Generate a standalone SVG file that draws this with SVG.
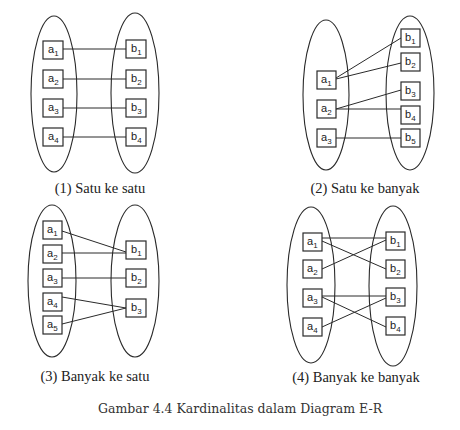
<svg xmlns="http://www.w3.org/2000/svg" width="460" height="430" viewBox="0 0 460 430">
<style>
.bg{fill:#fff}
.set{fill:none;stroke:#2a2a2a;stroke-width:1.1}
.box{fill:#fff;stroke:#2a2a2a;stroke-width:1.2}
.lbl{font-family:"Liberation Sans",Arial,sans-serif;font-size:11px;fill:#222}
.sub{font-size:8px}
.ln{stroke:#2a2a2a;stroke-width:1;fill:none}
.cap{font-family:"Liberation Serif","Times New Roman",serif;font-size:14.5px;fill:#222;text-anchor:middle}
.title{font-family:"DejaVu Serif",Georgia,serif;font-size:12.5px;fill:#333;text-anchor:middle}
</style>
<rect class="bg" x="0" y="0" width="460" height="430"/>

<!-- Panel 1 -->
<g id="p1-setA"><ellipse class="set" cx="54" cy="94" rx="23" ry="78"/></g>
<g id="p1-setB"><ellipse class="set" cx="135" cy="93" rx="24" ry="80"/></g>
<g id="p1-conn">
<line class="ln" x1="63" y1="49" x2="126" y2="49"/>
<line class="ln" x1="63" y1="79" x2="126" y2="79"/>
<line class="ln" x1="63" y1="108" x2="126" y2="108"/>
<line class="ln" x1="63" y1="137" x2="126" y2="137"/>
</g>
<g id="p1-a1"><rect class="box" x="43" y="41" width="20" height="18"/><text class="lbl" x="48" y="53">a<tspan class="sub" dy="3">1</tspan></text></g>
<g id="p1-a2"><rect class="box" x="43" y="70" width="20" height="18"/><text class="lbl" x="48" y="82">a<tspan class="sub" dy="3">2</tspan></text></g>
<g id="p1-a3"><rect class="box" x="43" y="99" width="20" height="18"/><text class="lbl" x="48" y="111">a<tspan class="sub" dy="3">3</tspan></text></g>
<g id="p1-a4"><rect class="box" x="43" y="128" width="20" height="18"/><text class="lbl" x="48" y="140">a<tspan class="sub" dy="3">4</tspan></text></g>
<g id="p1-b1"><rect class="box" x="126" y="40" width="20" height="18"/><text class="lbl" x="131" y="52">b<tspan class="sub" dy="3">1</tspan></text></g>
<g id="p1-b2"><rect class="box" x="126" y="70" width="20" height="18"/><text class="lbl" x="131" y="82">b<tspan class="sub" dy="3">2</tspan></text></g>
<g id="p1-b3"><rect class="box" x="126" y="99" width="20" height="18"/><text class="lbl" x="131" y="111">b<tspan class="sub" dy="3">3</tspan></text></g>
<g id="p1-b4"><rect class="box" x="126" y="128" width="20" height="18"/><text class="lbl" x="131" y="140">b<tspan class="sub" dy="3">4</tspan></text></g>
<text class="cap" x="100" y="193">(1) Satu ke satu</text>

<!-- Panel 2 -->
<g id="p2-setA"><ellipse class="set" cx="326" cy="95" rx="23" ry="75"/></g>
<g id="p2-setB"><ellipse class="set" cx="410" cy="93" rx="24" ry="77"/></g>
<g id="p2-conn">
<line class="ln" x1="336" y1="78" x2="401" y2="38"/>
<line class="ln" x1="336" y1="79" x2="401" y2="63"/>
<line class="ln" x1="336" y1="109" x2="401" y2="90"/>
<line class="ln" x1="336" y1="109" x2="401" y2="109"/>
<line class="ln" x1="336" y1="138" x2="401" y2="138"/>
</g>
<g id="p2-a1"><rect class="box" x="317" y="71" width="19" height="18"/><text class="lbl" x="321" y="83">a<tspan class="sub" dy="3">1</tspan></text></g>
<g id="p2-a2"><rect class="box" x="317" y="100" width="19" height="18"/><text class="lbl" x="321" y="112">a<tspan class="sub" dy="3">2</tspan></text></g>
<g id="p2-a3"><rect class="box" x="317" y="129" width="19" height="18"/><text class="lbl" x="321" y="141">a<tspan class="sub" dy="3">3</tspan></text></g>
<g id="p2-b1"><rect class="box" x="401" y="29" width="19" height="18"/><text class="lbl" x="405" y="41">b<tspan class="sub" dy="3">1</tspan></text></g>
<g id="p2-b2"><rect class="box" x="401" y="53" width="19" height="18"/><text class="lbl" x="405" y="65">b<tspan class="sub" dy="3">2</tspan></text></g>
<g id="p2-b3"><rect class="box" x="401" y="82" width="19" height="18"/><text class="lbl" x="405" y="94">b<tspan class="sub" dy="3">3</tspan></text></g>
<g id="p2-b4"><rect class="box" x="401" y="106" width="19" height="18"/><text class="lbl" x="405" y="118">b<tspan class="sub" dy="3">4</tspan></text></g>
<g id="p2-b5"><rect class="box" x="401" y="129" width="19" height="18"/><text class="lbl" x="405" y="141">b<tspan class="sub" dy="3">5</tspan></text></g>
<text class="cap" x="365" y="193">(2) Satu ke banyak</text>

<!-- Panel 3 -->
<g id="p3-setA"><ellipse class="set" cx="52" cy="281" rx="24" ry="76"/></g>
<g id="p3-setB"><ellipse class="set" cx="135" cy="281" rx="24" ry="76"/></g>
<g id="p3-conn">
<line class="ln" x1="62" y1="231" x2="126" y2="252"/>
<line class="ln" x1="62" y1="253" x2="126" y2="253"/>
<line class="ln" x1="62" y1="278" x2="126" y2="278"/>
<line class="ln" x1="62" y1="297" x2="126" y2="308"/>
<line class="ln" x1="62" y1="324" x2="126" y2="308"/>
</g>
<g id="p3-a1"><rect class="box" x="43" y="221" width="19" height="18"/><text class="lbl" x="47" y="233">a<tspan class="sub" dy="3">1</tspan></text></g>
<g id="p3-a2"><rect class="box" x="43" y="245" width="19" height="18"/><text class="lbl" x="47" y="257">a<tspan class="sub" dy="3">2</tspan></text></g>
<g id="p3-a3"><rect class="box" x="43" y="269" width="19" height="18"/><text class="lbl" x="47" y="281">a<tspan class="sub" dy="3">3</tspan></text></g>
<g id="p3-a4"><rect class="box" x="43" y="293" width="19" height="18"/><text class="lbl" x="47" y="305">a<tspan class="sub" dy="3">4</tspan></text></g>
<g id="p3-a5"><rect class="box" x="43" y="316" width="19" height="18"/><text class="lbl" x="47" y="328">a<tspan class="sub" dy="3">5</tspan></text></g>
<g id="p3-b1"><rect class="box" x="126" y="241" width="20" height="18"/><text class="lbl" x="131" y="253">b<tspan class="sub" dy="3">1</tspan></text></g>
<g id="p3-b2"><rect class="box" x="126" y="269" width="20" height="18"/><text class="lbl" x="131" y="281">b<tspan class="sub" dy="3">2</tspan></text></g>
<g id="p3-b3"><rect class="box" x="126" y="299" width="20" height="18"/><text class="lbl" x="131" y="311">b<tspan class="sub" dy="3">3</tspan></text></g>
<text class="cap" x="95" y="381">(3) Banyak ke satu</text>

<!-- Panel 4 -->
<g id="p4-setA"><ellipse class="set" cx="311" cy="285" rx="24" ry="78"/></g>
<g id="p4-setB"><ellipse class="set" cx="393" cy="286" rx="24" ry="80"/></g>
<g id="p4-conn">
<line class="ln" x1="322" y1="238" x2="386" y2="238"/>
<line class="ln" x1="322" y1="241" x2="386" y2="269"/>
<line class="ln" x1="322" y1="269" x2="386" y2="240"/>
<line class="ln" x1="322" y1="296" x2="386" y2="296"/>
<line class="ln" x1="322" y1="297" x2="386" y2="327"/>
<line class="ln" x1="322" y1="327" x2="386" y2="298"/>
</g>
<g id="p4-a1"><rect class="box" x="303" y="233" width="19" height="18"/><text class="lbl" x="307" y="245">a<tspan class="sub" dy="3">1</tspan></text></g>
<g id="p4-a2"><rect class="box" x="303" y="260" width="19" height="18"/><text class="lbl" x="307" y="272">a<tspan class="sub" dy="3">2</tspan></text></g>
<g id="p4-a3"><rect class="box" x="303" y="289" width="19" height="18"/><text class="lbl" x="307" y="301">a<tspan class="sub" dy="3">3</tspan></text></g>
<g id="p4-a4"><rect class="box" x="303" y="318" width="19" height="18"/><text class="lbl" x="307" y="330">a<tspan class="sub" dy="3">4</tspan></text></g>
<g id="p4-b1"><rect class="box" x="386" y="232" width="19" height="18"/><text class="lbl" x="390" y="244">b<tspan class="sub" dy="3">1</tspan></text></g>
<g id="p4-b2"><rect class="box" x="386" y="260" width="19" height="18"/><text class="lbl" x="390" y="272">b<tspan class="sub" dy="3">2</tspan></text></g>
<g id="p4-b3"><rect class="box" x="386" y="288" width="19" height="18"/><text class="lbl" x="390" y="300">b<tspan class="sub" dy="3">3</tspan></text></g>
<g id="p4-b4"><rect class="box" x="386" y="317" width="19" height="18"/><text class="lbl" x="390" y="329">b<tspan class="sub" dy="3">4</tspan></text></g>
<text class="cap" x="356" y="382">(4) Banyak ke banyak</text>

<text class="title" x="240" y="413">Gambar 4.4 Kardinalitas dalam Diagram E-R</text>
</svg>
